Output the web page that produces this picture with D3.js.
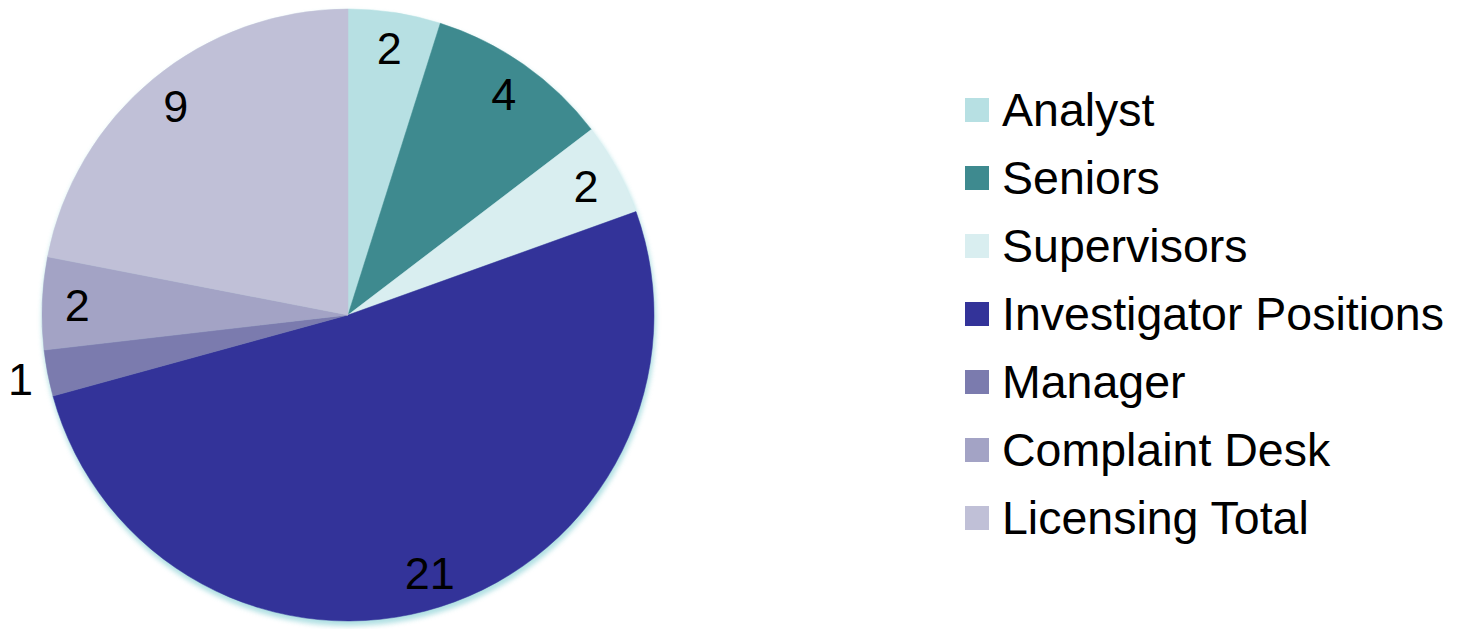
<!DOCTYPE html>
<html>
<head>
<meta charset="utf-8">
<script src="https://cdn.jsdelivr.net/npm/d3@7/dist/d3.min.js"></script>
<style>
html,body{margin:0;padding:0;background:#fff;}
svg{display:block;font-family:"Liberation Sans",Arial,sans-serif;}
</style>
</head>
<body>
<svg id="chart" width="1462" height="629"></svg>
<script>
const categories = ["Analyst","Seniors","Supervisors","Investigator Positions","Manager","Complaint Desk","Licensing Total"];
const values = [2,4,2,21,1,2,9];
const colors = ["#b7e0e3","#3e8a8f","#d9eef0","#333399","#7b7bae","#a3a3c5","#c0c0d7"];

const svg = d3.select("#chart");
const cx = 348, cy = 315, R = 306;

const defs = svg.append("defs");
defs.append("filter").attr("id","blur").attr("x","-10%").attr("y","-10%").attr("width","120%").attr("height","120%")
  .append("feGaussianBlur").attr("stdDeviation",2.5);

const data = categories.map((c,i)=>({name:c,value:values[i],color:colors[i]}));
const total = d3.sum(values);

const pie = d3.pie().value(d=>d.value).sort(null);
const arcs = pie(data);
const arc = d3.arc().innerRadius(0).outerRadius(R);

const g = svg.append("g").attr("transform",`translate(${cx},${cy})`);

// soft halo under the pie
g.append("circle").attr("cx",1).attr("cy",4).attr("r",R+1)
  .attr("fill","#a8dde0").attr("filter","url(#blur)").attr("opacity",0.9);

g.selectAll("path.slice").data(arcs).enter().append("path")
  .attr("class","slice")
  .attr("d",arc)
  .attr("fill",d=>d.data.color)
  .attr("stroke",d=>d.data.color)
  .attr("stroke-width",0.5);

// data labels
const inner = d3.arc().innerRadius(R*0.885).outerRadius(R*0.885);
const outer = d3.arc().innerRadius(R*1.09).outerRadius(R*1.09);
g.selectAll("text.lbl").data(arcs).enter().append("text")
  .attr("class","lbl")
  .attr("transform",d=>{
    const small = d.value/total < 0.04;
    const p = (small?outer:inner).centroid(d);
    return `translate(${p[0]},${p[1]})`;
  })
  .attr("text-anchor","middle")
  .attr("dy","0.36em")
  .attr("font-size",45)
  .attr("fill","#000")
  .text(d=>d.data.value);

// legend
const leg = svg.append("g").attr("transform","translate(965,110)");
const items = leg.selectAll("g").data(data).enter().append("g")
  .attr("transform",(d,i)=>`translate(0,${i*68})`);
items.append("rect").attr("x",0).attr("y",-12).attr("width",24).attr("height",24).attr("fill",d=>d.color);
items.append("text").attr("x",37).attr("y",16).attr("font-size",46.5).attr("fill","#000").text(d=>d.name);
</script>
</body>
</html>
